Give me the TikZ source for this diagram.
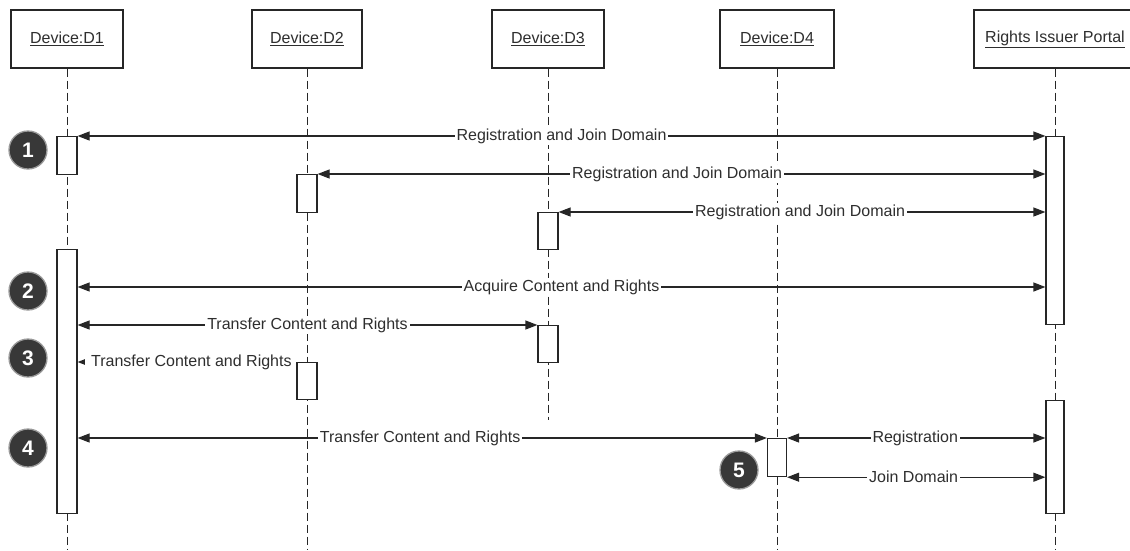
\documentclass[tikz,border=0pt]{standalone}
\usepackage{fontspec}
\setmainfont{Liberation Sans}
\usetikzlibrary{arrows.meta}
\pgfdeclarelayer{bg}
\pgfsetlayers{bg,main}
\begin{document}
\begin{tikzpicture}[x=1pt,y=-1pt,
  every node/.style={font=\fontsize{16}{18}\selectfont, text=black!82},
  head/.style={draw=black!85, line width=1.3pt, fill=white, minimum height=58pt, inner sep=0pt},
  life/.style={draw=black!85, line width=1pt, dash pattern=on 8pt off 4pt},
  act/.style={draw=black!85, line width=1.2pt, fill=white, minimum width=20pt, inner sep=0pt, anchor=north},
  msg/.style={draw=black!85, line width=1.2pt, {Triangle[length=12pt,width=9pt]}-{Triangle[length=12pt,width=9pt]}},
  lbl/.style={fill=white, inner sep=2pt},
  num/.style={circle, fill=black!78, draw=black!40, line width=1.3pt, minimum size=38pt, inner sep=0pt,
              text=white, font=\fontsize{21}{21}\selectfont\bfseries}
]
\useasboundingbox (0,0) rectangle (1130,550);

% heads
\node[head, minimum width=112pt] (h1) at (67,39) {\underline{Device:D1}};
\node[head, minimum width=110pt] (h2) at (307,39) {\underline{Device:D2}};
\node[head, minimum width=112pt] (h3) at (548,39) {\underline{Device:D3}};
\node[head, minimum width=114pt] (h4) at (777,39) {\underline{Device:D4}};
\node[head, minimum width=162pt] (h5) at (1055,39) {\underline{Rights Issuer Portal}};

% lifeline ends
\coordinate (e1) at (67,550);
\coordinate (e2) at (307,550);
\coordinate (e3) at (548,420);
\coordinate (e4) at (777,550);
\coordinate (e5) at (1055,550);

% activations
\node[act, minimum height=38pt] (a1) at (67,136) {};
\node[act, minimum height=38pt] (b1) at (307,174) {};
\node[act, minimum height=37pt] (c1) at (548,212) {};
\node[act, minimum height=264pt] (a2) at (67,249) {};
\node[act, minimum height=37pt] (c2) at (548,325) {};
\node[act, minimum height=37pt] (b2) at (307,362) {};
\node[act, minimum height=38pt, minimum width=19pt] (d1) at (777,438) {};
\node[act, minimum height=188pt, minimum width=18pt] (r1) at (1055,136) {};
\node[act, minimum height=113pt, minimum width=18pt] (r2) at (1055,400) {};

\begin{pgfonlayer}{bg}
\draw[life] (h1.south) -- (e1);
\draw[life] (h2.south) -- (e2);
\draw[life] (h3.south) -- (e3);
\draw[life] (h4.south) -- (e4);
\draw[life] (h5.south) -- (e5);

% messages
\draw[msg] (a1.north east) -- node[lbl] {Registration and Join Domain} (a1.north east -| r1.west);
\draw[msg] (b1.north east) -- node[lbl, pos=0.494] {Registration and Join Domain} (b1.north east -| r1.west);
\draw[msg] (c1.north east) -- node[lbl, pos=0.496] {Registration and Join Domain} (c1.north east -| r1.west);
\draw[msg] (a2.east |- 0,287) -- node[lbl] {Acquire Content and Rights} (r1.west |- 0,287);
\draw[msg] (a2.east |- c2.north) -- node[lbl] {Transfer Content and Rights} (c2.north west);
\draw[msg] (a2.east |- b2.north) -- node[lbl, inner xsep=6.5pt, pos=0.52] {Transfer Content and Rights} (b2.north west);
\draw[msg] (a2.east |- d1.north) -- node[lbl, pos=0.497] {Transfer Content and Rights} (d1.north west);
\draw[msg] (d1.north east) -- node[lbl, pos=0.496] {Registration} (d1.north east -| r2.west);
\draw[msg] (d1.south east) -- node[lbl, pos=0.49] {Join Domain} (d1.south east -| r2.west);
\end{pgfonlayer}

% step numbers
\node[num] (n1) at (28,150) {1};
\node[num] (n2) at (28,291) {2};
\node[num] (n3) at (28,358) {3};
\node[num] (n4) at (28,448) {4};
\node[num] (n5) at (739,470) {5};
\end{tikzpicture}
\end{document}
